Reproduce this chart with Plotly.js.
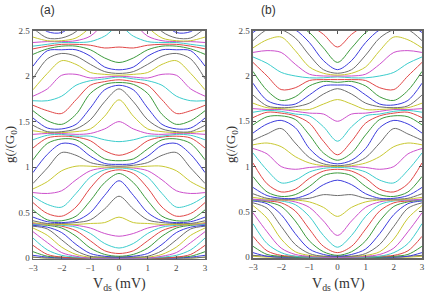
<!DOCTYPE html>
<html>
<head>
<meta charset="utf-8">
<script src="https://cdn.plot.ly/plotly-3.0.1.min.js"></script>
<style>html,body{margin:0;padding:0;background:#fff;}#chart{width:443px;height:298px;}</style>
</head>
<body>
<div id="chart"></div>
<script>
// Bias voltage V_ds (mV) sample points
const vds = [-3,-2.5,-2,-1.5,-1,-0.5,0,0.5,1,1.5,2,2.5,3];
// y tick values / labels
const yTickVals = [0,0.5,1,1.5,2,2.5];
const yTickText = ['0','0.5','1','1.5','2','2.5'];
const xTickVals = [-3,-2,-1,0,1,2,3];
// colour cycle of the curves (first curve = yellow)
const colorCycle = ['#c8c832','#6e6e6e','#3c3cdc','#3c9a3c','#e04646','#3ccccc','#cc50cc'];

// Panel (a): g(V_ds) curves, one row per gate value, ascending
const gA = [
[0.01,0,0,0,0,0,0,0,0,0,0,0,0.01],
[0.01,0,0,0,0,0,0,0,0,0,0,0,0.01],
[0.03,0.01,0,0,0,0,0,0,0,0,0,0.01,0.03],
[0.07,0.02,0.01,0,0,0,0,0,0,0,0.01,0.02,0.07],
[0.14,0.04,0.01,0,0,0,0,0,0,0,0.01,0.04,0.14],
[0.22,0.09,0.03,0.01,0,0,0,0,0,0.01,0.03,0.09,0.22],
[0.29,0.17,0.06,0.02,0,0,0,0,0,0.02,0.06,0.17,0.29],
[0.33,0.25,0.12,0.04,0.01,0.01,0.01,0.01,0.01,0.04,0.12,0.25,0.33],
[0.35,0.32,0.20,0.08,0.02,0.01,0.01,0.01,0.02,0.08,0.20,0.32,0.35],
[0.36,0.34,0.28,0.15,0.05,0.02,0.01,0.02,0.05,0.15,0.28,0.34,0.36],
[0.37,0.36,0.33,0.24,0.11,0.04,0.02,0.04,0.11,0.24,0.33,0.36,0.37],
[0.37,0.37,0.35,0.30,0.19,0.08,0.05,0.08,0.19,0.30,0.35,0.37,0.37],
[0.37,0.37,0.36,0.34,0.27,0.16,0.11,0.16,0.27,0.34,0.36,0.37,0.37],
[0.38,0.37,0.37,0.36,0.33,0.27,0.24,0.27,0.33,0.36,0.37,0.37,0.38],
[0.39,0.37,0.37,0.37,0.38,0.39,0.45,0.39,0.38,0.37,0.37,0.37,0.39],
[0.41,0.38,0.38,0.39,0.42,0.54,0.68,0.54,0.42,0.39,0.38,0.38,0.41],
[0.45,0.40,0.39,0.41,0.50,0.69,0.85,0.69,0.50,0.41,0.39,0.40,0.45],
[0.53,0.42,0.41,0.46,0.63,0.83,0.93,0.83,0.63,0.46,0.41,0.42,0.53],
[0.61,0.49,0.46,0.56,0.77,0.93,0.97,0.93,0.77,0.56,0.46,0.49,0.61],
[0.68,0.59,0.56,0.71,0.89,0.97,0.99,0.97,0.89,0.71,0.56,0.59,0.68],
[0.72,0.71,0.74,0.86,0.96,0.99,1.00,0.99,0.96,0.86,0.74,0.71,0.72],
[0.76,0.84,0.96,1.01,1.01,1.00,1.00,1.00,1.01,1.01,0.96,0.84,0.76],
[0.82,0.99,1.16,1.13,1.05,1.02,1.01,1.02,1.05,1.13,1.16,0.99,0.82],
[0.94,1.14,1.26,1.24,1.12,1.04,1.03,1.04,1.12,1.24,1.26,1.14,0.94],
[1.08,1.26,1.31,1.30,1.20,1.09,1.07,1.09,1.20,1.30,1.31,1.26,1.08],
[1.21,1.32,1.34,1.33,1.29,1.18,1.13,1.18,1.29,1.33,1.34,1.32,1.21],
[1.30,1.35,1.36,1.34,1.34,1.30,1.28,1.30,1.34,1.34,1.36,1.35,1.30],
[1.36,1.37,1.37,1.36,1.37,1.42,1.50,1.42,1.37,1.36,1.37,1.37,1.36],
[1.40,1.38,1.38,1.39,1.42,1.56,1.74,1.56,1.42,1.39,1.38,1.38,1.40],
[1.46,1.39,1.39,1.42,1.52,1.72,1.86,1.72,1.52,1.42,1.39,1.39,1.46],
[1.54,1.43,1.42,1.47,1.65,1.85,1.90,1.85,1.65,1.47,1.42,1.43,1.54],
[1.62,1.51,1.47,1.58,1.81,1.91,1.93,1.91,1.81,1.58,1.47,1.51,1.62],
[1.68,1.62,1.59,1.74,1.90,1.94,1.96,1.94,1.90,1.74,1.59,1.62,1.68],
[1.73,1.73,1.78,1.90,1.95,1.97,1.99,1.97,1.95,1.90,1.78,1.73,1.73],
[1.78,1.86,2.01,2.02,1.98,1.99,2.00,1.99,1.98,2.02,2.01,1.86,1.78],
[1.85,2.03,2.17,2.13,2.04,2.02,2.01,2.02,2.04,2.13,2.17,2.03,1.85],
[1.97,2.19,2.25,2.22,2.13,2.05,2.03,2.05,2.13,2.22,2.25,2.19,1.97],
[2.11,2.28,2.29,2.29,2.22,2.10,2.07,2.10,2.22,2.29,2.29,2.28,2.11],
[2.24,2.30,2.33,2.33,2.29,2.20,2.15,2.20,2.29,2.33,2.33,2.30,2.24],
[2.30,2.33,2.35,2.35,2.34,2.31,2.32,2.31,2.34,2.35,2.35,2.33,2.30],
[2.33,2.35,2.37,2.37,2.38,2.44,2.55,2.44,2.38,2.37,2.37,2.35,2.33],
[2.37,2.38,2.38,2.39,2.44,2.59,2.74,2.59,2.44,2.39,2.38,2.38,2.37],
[2.43,2.39,2.39,2.42,2.54,2.74,2.86,2.74,2.54,2.42,2.39,2.39,2.43],
[2.53,2.42,2.42,2.49,2.69,2.86,2.92,2.86,2.69,2.49,2.42,2.42,2.53],
[2.62,2.49,2.48,2.61,2.81,2.92,2.96,2.92,2.81,2.61,2.48,2.49,2.62]
];

// Panel (b): g(V_ds) curves, one row per gate value, ascending
const gB = [
[0.01,0,0,0,0,0,0,0,0,0,0,0,0.01],
[0.02,0.01,0,0,0,0,0,0,0,0,0,0.01,0.02],
[0.05,0.01,0,0,0,0,0,0,0,0,0,0.01,0.05],
[0.12,0.03,0.01,0,0,0,0,0,0,0,0.01,0.03,0.12],
[0.23,0.07,0.02,0.01,0,0,0,0,0,0.01,0.02,0.07,0.23],
[0.37,0.15,0.05,0.01,0,0,0,0,0,0.01,0.05,0.15,0.37],
[0.49,0.28,0.10,0.03,0.01,0,0,0,0.01,0.03,0.10,0.28,0.49],
[0.57,0.43,0.20,0.06,0.02,0.01,0.01,0.01,0.02,0.06,0.20,0.43,0.57],
[0.60,0.54,0.34,0.14,0.04,0.01,0.01,0.01,0.04,0.14,0.34,0.54,0.60],
[0.62,0.59,0.47,0.26,0.09,0.03,0.01,0.03,0.09,0.26,0.47,0.59,0.62],
[0.63,0.61,0.56,0.40,0.18,0.06,0.02,0.06,0.18,0.40,0.56,0.61,0.63],
[0.63,0.62,0.60,0.51,0.31,0.12,0.05,0.12,0.31,0.51,0.60,0.62,0.63],
[0.63,0.63,0.62,0.58,0.45,0.24,0.11,0.24,0.45,0.58,0.62,0.63,0.63],
[0.64,0.63,0.63,0.61,0.55,0.40,0.24,0.40,0.55,0.61,0.63,0.63,0.64],
[0.66,0.64,0.63,0.63,0.61,0.55,0.45,0.55,0.61,0.63,0.63,0.64,0.66],
[0.70,0.65,0.64,0.64,0.65,0.69,0.68,0.69,0.65,0.64,0.64,0.65,0.70],
[0.77,0.68,0.65,0.65,0.70,0.80,0.85,0.80,0.70,0.65,0.65,0.68,0.77],
[0.89,0.72,0.67,0.69,0.78,0.90,0.93,0.90,0.78,0.69,0.67,0.72,0.89],
[1.04,0.81,0.72,0.75,0.87,0.95,0.97,0.95,0.87,0.75,0.72,0.81,1.04],
[1.15,0.96,0.82,0.85,0.94,0.98,0.99,0.98,0.94,0.85,0.82,0.96,1.15],
[1.20,1.14,1.00,0.97,0.99,1.00,1.00,1.00,0.99,0.97,1.00,1.14,1.20],
[1.24,1.26,1.22,1.11,1.04,1.01,1.00,1.01,1.04,1.11,1.22,1.26,1.24],
[1.29,1.36,1.42,1.26,1.10,1.03,1.01,1.03,1.10,1.26,1.42,1.36,1.29],
[1.37,1.47,1.51,1.43,1.20,1.07,1.03,1.07,1.20,1.43,1.51,1.47,1.37],
[1.46,1.55,1.56,1.52,1.35,1.15,1.07,1.15,1.35,1.52,1.56,1.55,1.46],
[1.54,1.60,1.59,1.56,1.48,1.28,1.13,1.28,1.48,1.56,1.59,1.60,1.54],
[1.60,1.62,1.61,1.58,1.56,1.44,1.28,1.44,1.56,1.58,1.61,1.62,1.60],
[1.64,1.63,1.63,1.61,1.59,1.58,1.50,1.58,1.59,1.61,1.63,1.63,1.64],
[1.70,1.65,1.64,1.63,1.63,1.69,1.74,1.69,1.63,1.63,1.64,1.65,1.70],
[1.79,1.67,1.65,1.66,1.70,1.80,1.86,1.80,1.70,1.66,1.65,1.67,1.79],
[1.92,1.73,1.68,1.69,1.79,1.89,1.90,1.89,1.79,1.69,1.68,1.73,1.92],
[2.05,1.84,1.73,1.77,1.89,1.94,1.93,1.94,1.89,1.77,1.73,1.84,2.05],
[2.15,2.00,1.85,1.87,1.95,1.96,1.96,1.96,1.95,1.87,1.85,2.00,2.15],
[2.21,2.14,2.04,2.00,1.98,1.98,1.99,1.98,1.98,2.00,2.04,2.14,2.21],
[2.26,2.28,2.26,2.13,2.02,2.00,2.00,2.00,2.02,2.13,2.26,2.28,2.26],
[2.31,2.40,2.43,2.28,2.10,2.03,2.01,2.03,2.10,2.28,2.43,2.40,2.31],
[2.39,2.51,2.51,2.42,2.23,2.07,2.03,2.07,2.23,2.42,2.51,2.51,2.39],
[2.48,2.57,2.56,2.51,2.37,2.17,2.07,2.17,2.37,2.51,2.56,2.57,2.48],
[2.56,2.59,2.59,2.57,2.48,2.31,2.15,2.31,2.48,2.57,2.59,2.59,2.56],
[2.60,2.60,2.61,2.60,2.56,2.46,2.32,2.46,2.56,2.60,2.61,2.60,2.60]
];

const traces = [];
function addPanel(rows, xa, ya) {
  rows.forEach((row, i) => {
    traces.push({
      x: vds, y: row, xaxis: xa, yaxis: ya, type: 'scatter', mode: 'lines',
      line: {color: colorCycle[i % colorCycle.length], width: 1, shape: 'spline', smoothing: 0.9},
      hoverinfo: 'skip', showlegend: false
    });
  });
}
addPanel(gA, 'x', 'y');
addPanel(gB, 'x2', 'y2');

const serif = 'Liberation Serif, Times New Roman, serif';
function xAxis(domain, anchor) {
  return {domain: domain, anchor: anchor, range: [-3, 3], tickvals: xTickVals,
    ticks: 'inside', ticklen: 3, tickcolor: '#555', showline: true, mirror: 'ticks',
    linecolor: '#666', linewidth: 1.5, showgrid: false, zeroline: false,
    tickfont: {family: serif, size: 9, color: '#444'}};
}
function yAxis(domain, anchor) {
  return {domain: domain, anchor: anchor, range: [-0.01, 2.5], tickvals: yTickVals, ticktext: yTickText,
    ticks: 'inside', ticklen: 3, tickcolor: '#555', showline: true, mirror: 'ticks',
    linecolor: '#666', linewidth: 1.5, showgrid: false, zeroline: false,
    tickfont: {family: serif, size: 9, color: '#444'}};
}

function label(text, px, py, size, family, angle) {
  return {text: text, x: px / 443, y: 1 - py / 298, xref: 'paper', yref: 'paper',
    xanchor: 'center', yanchor: 'middle', showarrow: false, textangle: angle || 0,
    font: {family: family, size: size, color: '#333'}};
}

const layout = {
  width: 443, height: 298, margin: {l: 0, r: 0, t: 0, b: 0},
  paper_bgcolor: '#fff', plot_bgcolor: '#fff', showlegend: false,
  xaxis: xAxis([0.0745, 0.4628], 'y'),
  yaxis: yAxis([0.131, 0.897], 'x'),
  xaxis2: xAxis([0.5711, 0.9526], 'y2'),
  yaxis2: yAxis([0.134, 0.897], 'x2'),
  annotations: [
    label('(a)', 47, 10, 12, 'Liberation Sans, Arial, sans-serif'),
    label('(b)', 268, 10, 12, 'Liberation Sans, Arial, sans-serif'),
    label('V<sub>ds</sub> (mV)', 119, 284, 14, serif),
    label('V<sub>ds</sub> (mV)', 338, 284, 14, serif),
    label('g(/(G<sub>0</sub>)', 10, 145, 13, serif, -90),
    label('g(/(G<sub>0</sub>)', 231, 145, 13, serif, -90)
  ]
};

Plotly.newPlot('chart', traces, layout, {displayModeBar: false, staticPlot: true});
</script>
</body>
</html>
